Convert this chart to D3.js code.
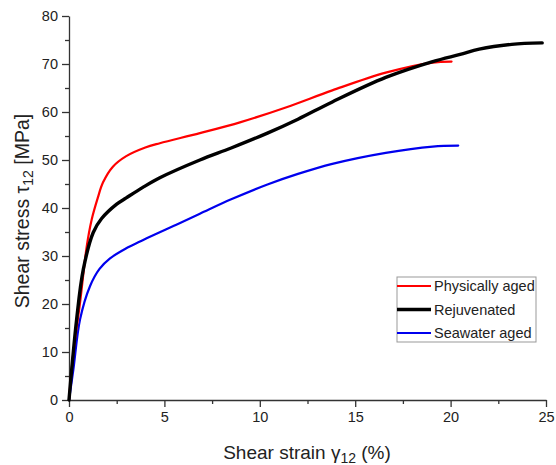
<!DOCTYPE html>
<html>
<head>
<meta charset="utf-8">
<script src="https://cdn.jsdelivr.net/npm/d3@7"></script>
<style>
  body { margin: 0; background: #fff; }
  text { font-family: "Liberation Sans", Arial, sans-serif; fill: #222; }
  .axis path, .axis line { stroke: #333; stroke-width: 1.3; }
  .axis text { font-size: 14.5px; fill: #222; }
</style>
</head>
<body>
<script>
// Series (strain %, stress MPa)
const physStrain = [0, 0.23, 0.58, 0.93, 1.19, 1.5, 1.78, 2.3, 3.0, 4.0, 4.76, 6.86, 9.0, 11.4, 13.8, 16.6, 19.06, 20.05];
const physStress = [0, 9.9, 20.3, 32, 37.6, 42, 45.3, 48.6, 50.8, 52.6, 53.5, 55.6, 57.9, 61.0, 64.5, 68.2, 70.3, 70.5];

const rejuvStrain = [0, 0.4, 0.75, 1.27, 1.71, 2.5, 3.0, 3.87, 4.76, 6.86, 8.5, 10.4, 12, 13.8, 16.6, 19.06, 20.5, 21.5, 23.2, 24.8];
const rejuvStress = [0, 16.8, 27.2, 34.9, 37.8, 40.8, 42.1, 44.3, 46.3, 50, 52.5, 55.6, 58.5, 62.1, 67.2, 70.5, 72, 73.1, 74.1, 74.4];

const seaStrain = [0, 0.23, 0.58, 1.1, 1.6, 2.15, 3.0, 3.72, 4.24, 5.5, 6.86, 8.5, 10.4, 12, 13.8, 16.6, 19.06, 20.4];
const seaStress = [0, 6.4, 16.8, 23.7, 27.3, 29.5, 31.6, 33.0, 34.0, 36.3, 38.8, 41.8, 44.9, 47.1, 49.2, 51.5, 52.8, 53];

const seriesNames = ["Physically aged", "Rejuvenated", "Seawater aged"];
const seriesColors = ["#ff0000", "#000000", "#0000ee"];
const seriesWidths = [2.2, 3.4, 2.2];

const xTicks = [0, 5, 10, 15, 20, 25];
const yTicks = [0, 10, 20, 30, 40, 50, 60, 70, 80];

const svgWidth = 556;
const svgHeight = 465;
const margin = { top: 16, right: 10, bottom: 65, left: 69 };
const chartWidth = 546 - margin.left;
const chartHeight = 400 - margin.top;

const svg = d3.select("body").append("svg")
  .attr("width", svgWidth)
  .attr("height", svgHeight);

const chartGroup = svg.append("g")
  .attr("transform", `translate(${margin.left}, ${margin.top})`);

const xScale = d3.scaleLinear().domain([0, 25]).range([0, chartWidth]);
const yScale = d3.scaleLinear().domain([0, 80]).range([chartHeight, 0]);

// minor ticks first, then major ticks with labels
chartGroup.append("g")
  .classed("axis", true)
  .attr("transform", `translate(0, ${chartHeight})`)
  .call(d3.axisBottom(xScale).tickValues(d3.range(2.5, 25, 5)).tickSize(4).tickFormat(""))
  .call(g => g.select(".domain").remove());
chartGroup.append("g")
  .classed("axis", true)
  .call(d3.axisLeft(yScale).tickValues(d3.range(5, 80, 10)).tickSize(4).tickFormat(""))
  .call(g => g.select(".domain").remove());

chartGroup.append("g")
  .classed("axis", true)
  .attr("transform", `translate(0, ${chartHeight})`)
  .call(d3.axisBottom(xScale).tickValues(xTicks).tickSize(7).tickSizeOuter(0).tickPadding(5));
chartGroup.append("g")
  .classed("axis", true)
  .call(d3.axisLeft(yScale).tickValues(yTicks).tickSize(7).tickSizeOuter(0).tickPadding(4));

const line = d3.line()
  .x(d => xScale(d[0]))
  .y(d => yScale(d[1]))
  .curve(d3.curveCatmullRom.alpha(0.5));

const allSeries = [
  d3.zip(physStrain, physStress),
  d3.zip(rejuvStrain, rejuvStress),
  d3.zip(seaStrain, seaStress)
];

// draw order: blue, red, black on top
[2, 0, 1].forEach(i => {
  chartGroup.append("path")
    .attr("d", line(allSeries[i]))
    .attr("fill", "none")
    .attr("stroke", seriesColors[i])
    .attr("stroke-width", seriesWidths[i])
    .attr("stroke-linecap", "round");
});

// axis titles
const xTitle = svg.append("text")
  .attr("x", 307)
  .attr("y", 459)
  .attr("text-anchor", "middle")
  .style("font-size", "19px");
xTitle.append("tspan").text("Shear strain \u03B3");
xTitle.append("tspan").attr("dy", 4).style("font-size", "14px").text("12");
xTitle.append("tspan").attr("dy", -4).text(" (%)");

const yTitle = svg.append("text")
  .attr("transform", "translate(29, 211) rotate(-90)")
  .attr("text-anchor", "middle")
  .style("font-size", "19.5px");
yTitle.append("tspan").text("Shear stress \u03C4");
yTitle.append("tspan").attr("dy", 4).style("font-size", "14px").text("12");
yTitle.append("tspan").attr("dy", -4).text(" [MPa]");

// legend
const legend = svg.append("g").attr("transform", "translate(397, 277)");
legend.append("rect")
  .attr("width", 139)
  .attr("height", 65)
  .attr("fill", "#fff")
  .attr("stroke", "#999")
  .attr("stroke-width", 1);
seriesNames.forEach((name, i) => {
  const y = 9 + i * 23.5;
  legend.append("line")
    .attr("x1", 0).attr("x2", 34)
    .attr("y1", y).attr("y2", y)
    .attr("stroke", seriesColors[i])
    .attr("stroke-width", seriesWidths[i]);
  legend.append("text")
    .attr("x", 37)
    .attr("y", y + 5)
    .style("font-size", "14.5px")
    .text(name);
});
</script>
</body>
</html>
